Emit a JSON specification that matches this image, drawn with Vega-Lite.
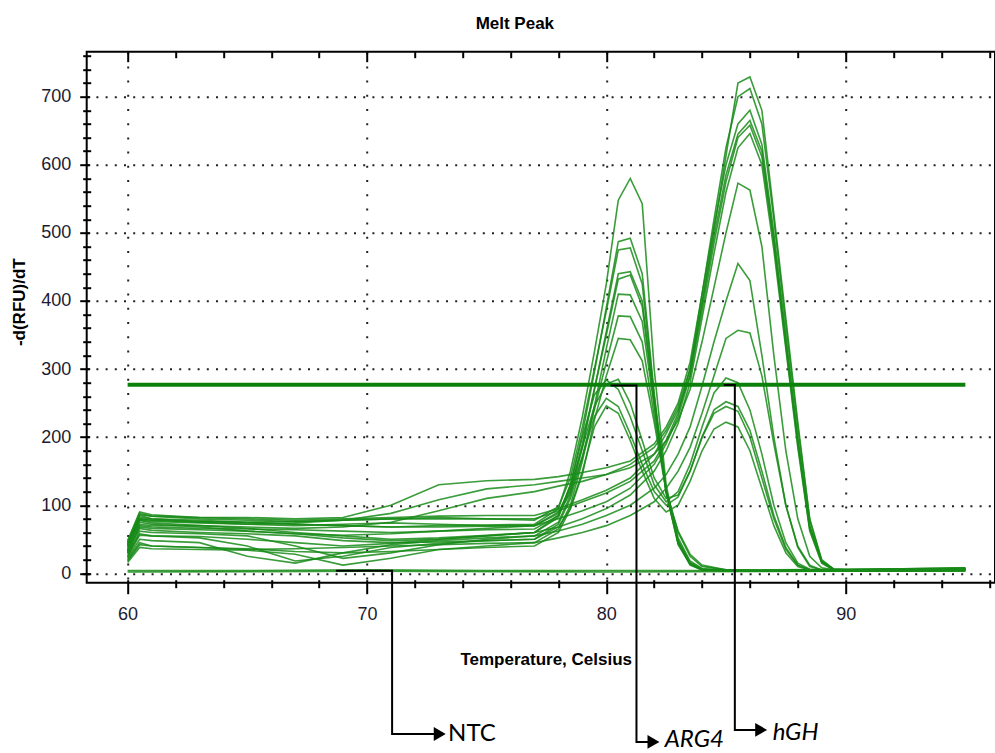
{
"$schema":"https://vega.github.io/schema/vega-lite/v6.json",
"width":908.3,"height":531,
"autosize":{"type":"none"},
"padding":{"left":86.7,"top":51.7,"right":0,"bottom":170.3},
"background":"white",
"title":{"text":"Melt Peak","font":"Liberation Sans Narrow, Arial Narrow, Liberation Sans, sans-serif","fontSize":17,"fontWeight":"bold","color":"black","dx":-26,"offset":18},
"config":{"view":{"stroke":"black","strokeWidth":2},"axis":{"tickColor":"black","tickWidth":2,"domain":false,"labelFont":"Liberation Sans Narrow, Arial Narrow, Liberation Sans, sans-serif","labelColor":"#1c1c30","titleFont":"Liberation Sans Narrow, Arial Narrow, Liberation Sans, sans-serif","titleColor":"black","gridColor":"#222"}},
"resolve":{"axis":{"x":"independent","y":"independent"}},
"datasets":{
"curves":[
{"s":"a1","t":60,"v":40},{"s":"a1","t":60.5,"v":85},{"s":"a1","t":61,"v":80},{"s":"a1","t":63,"v":76},{"s":"a1","t":65,"v":74},{"s":"a1","t":67,"v":72},{"s":"a1","t":69,"v":70},{"s":"a1","t":71,"v":68},{"s":"a1","t":73,"v":70},{"s":"a1","t":75,"v":71},{"s":"a1","t":77,"v":72},{"s":"a1","t":78,"v":95},{"s":"a1","t":78.5,"v":150},{"s":"a1","t":79,"v":230},{"s":"a1","t":79.5,"v":325},{"s":"a1","t":80,"v":425},{"s":"a1","t":80.5,"v":548},{"s":"a1","t":81,"v":580},{"s":"a1","t":81.5,"v":543},{"s":"a1","t":82,"v":300},{"s":"a1","t":82.5,"v":130},{"s":"a1","t":83,"v":45},{"s":"a1","t":83.5,"v":12},{"s":"a1","t":84,"v":5},{"s":"a1","t":85,"v":4},{"s":"a1","t":87,"v":4},{"s":"a1","t":90,"v":5},{"s":"a1","t":95,"v":6},
{"s":"a2","t":60,"v":35},{"s":"a2","t":60.5,"v":78},{"s":"a2","t":61,"v":74},{"s":"a2","t":63,"v":70},{"s":"a2","t":65,"v":66},{"s":"a2","t":67,"v":60},{"s":"a2","t":69,"v":55},{"s":"a2","t":71,"v":50},{"s":"a2","t":73,"v":52},{"s":"a2","t":75,"v":56},{"s":"a2","t":77,"v":60},{"s":"a2","t":78,"v":82},{"s":"a2","t":78.5,"v":130},{"s":"a2","t":79,"v":205},{"s":"a2","t":79.5,"v":295},{"s":"a2","t":80,"v":390},{"s":"a2","t":80.5,"v":487},{"s":"a2","t":81,"v":492},{"s":"a2","t":81.5,"v":440},{"s":"a2","t":82,"v":265},{"s":"a2","t":82.5,"v":120},{"s":"a2","t":83,"v":42},{"s":"a2","t":83.5,"v":13},{"s":"a2","t":84,"v":5},{"s":"a2","t":85,"v":4},{"s":"a2","t":87,"v":3},{"s":"a2","t":90,"v":4},{"s":"a2","t":95,"v":5},
{"s":"a3","t":60,"v":45},{"s":"a3","t":60.5,"v":88},{"s":"a3","t":61,"v":84},{"s":"a3","t":63,"v":80},{"s":"a3","t":65,"v":78},{"s":"a3","t":67,"v":76},{"s":"a3","t":69,"v":78},{"s":"a3","t":71,"v":80},{"s":"a3","t":73,"v":82},{"s":"a3","t":75,"v":80},{"s":"a3","t":77,"v":78},{"s":"a3","t":78,"v":98},{"s":"a3","t":78.5,"v":140},{"s":"a3","t":79,"v":215},{"s":"a3","t":79.5,"v":300},{"s":"a3","t":80,"v":385},{"s":"a3","t":80.5,"v":475},{"s":"a3","t":81,"v":478},{"s":"a3","t":81.5,"v":425},{"s":"a3","t":82,"v":260},{"s":"a3","t":82.5,"v":118},{"s":"a3","t":83,"v":44},{"s":"a3","t":83.5,"v":14},{"s":"a3","t":84,"v":5},{"s":"a3","t":85,"v":4},{"s":"a3","t":87,"v":5},{"s":"a3","t":90,"v":6},{"s":"a3","t":95,"v":7},
{"s":"a4","t":60,"v":25},{"s":"a4","t":60.5,"v":62},{"s":"a4","t":61,"v":60},{"s":"a4","t":63,"v":58},{"s":"a4","t":65,"v":55},{"s":"a4","t":67,"v":40},{"s":"a4","t":69,"v":22},{"s":"a4","t":71,"v":30},{"s":"a4","t":73,"v":42},{"s":"a4","t":75,"v":50},{"s":"a4","t":77,"v":55},{"s":"a4","t":78,"v":75},{"s":"a4","t":78.5,"v":115},{"s":"a4","t":79,"v":185},{"s":"a4","t":79.5,"v":270},{"s":"a4","t":80,"v":355},{"s":"a4","t":80.5,"v":440},{"s":"a4","t":81,"v":443},{"s":"a4","t":81.5,"v":400},{"s":"a4","t":82,"v":255},{"s":"a4","t":82.5,"v":122},{"s":"a4","t":83,"v":48},{"s":"a4","t":83.5,"v":16},{"s":"a4","t":84,"v":6},{"s":"a4","t":85,"v":4},{"s":"a4","t":87,"v":4},{"s":"a4","t":90,"v":3},{"s":"a4","t":95,"v":4},
{"s":"a5","t":60,"v":30},{"s":"a5","t":60.5,"v":70},{"s":"a5","t":61,"v":68},{"s":"a5","t":63,"v":66},{"s":"a5","t":65,"v":65},{"s":"a5","t":67,"v":64},{"s":"a5","t":69,"v":62},{"s":"a5","t":71,"v":60},{"s":"a5","t":73,"v":62},{"s":"a5","t":75,"v":64},{"s":"a5","t":77,"v":65},{"s":"a5","t":78,"v":85},{"s":"a5","t":78.5,"v":122},{"s":"a5","t":79,"v":190},{"s":"a5","t":79.5,"v":270},{"s":"a5","t":80,"v":350},{"s":"a5","t":80.5,"v":432},{"s":"a5","t":81,"v":438},{"s":"a5","t":81.5,"v":392},{"s":"a5","t":82,"v":250},{"s":"a5","t":82.5,"v":118},{"s":"a5","t":83,"v":47},{"s":"a5","t":83.5,"v":15},{"s":"a5","t":84,"v":6},{"s":"a5","t":85,"v":5},{"s":"a5","t":87,"v":4},{"s":"a5","t":90,"v":5},{"s":"a5","t":95,"v":8},
{"s":"a6","t":60,"v":20},{"s":"a6","t":60.5,"v":45},{"s":"a6","t":61,"v":40},{"s":"a6","t":63,"v":38},{"s":"a6","t":65,"v":35},{"s":"a6","t":67,"v":36},{"s":"a6","t":69,"v":38},{"s":"a6","t":71,"v":40},{"s":"a6","t":73,"v":42},{"s":"a6","t":75,"v":44},{"s":"a6","t":77,"v":45},{"s":"a6","t":78,"v":65},{"s":"a6","t":78.5,"v":100},{"s":"a6","t":79,"v":165},{"s":"a6","t":79.5,"v":245},{"s":"a6","t":80,"v":330},{"s":"a6","t":80.5,"v":410},{"s":"a6","t":81,"v":409},{"s":"a6","t":81.5,"v":370},{"s":"a6","t":82,"v":245},{"s":"a6","t":82.5,"v":124},{"s":"a6","t":83,"v":52},{"s":"a6","t":83.5,"v":18},{"s":"a6","t":84,"v":7},{"s":"a6","t":85,"v":4},{"s":"a6","t":87,"v":3},{"s":"a6","t":90,"v":4},{"s":"a6","t":95,"v":5},
{"s":"a7","t":60,"v":42},{"s":"a7","t":60.5,"v":80},{"s":"a7","t":61,"v":78},{"s":"a7","t":63,"v":75},{"s":"a7","t":65,"v":72},{"s":"a7","t":67,"v":70},{"s":"a7","t":69,"v":72},{"s":"a7","t":71,"v":74},{"s":"a7","t":73,"v":72},{"s":"a7","t":75,"v":70},{"s":"a7","t":77,"v":70},{"s":"a7","t":78,"v":88},{"s":"a7","t":78.5,"v":118},{"s":"a7","t":79,"v":172},{"s":"a7","t":79.5,"v":240},{"s":"a7","t":80,"v":310},{"s":"a7","t":80.5,"v":378},{"s":"a7","t":81,"v":377},{"s":"a7","t":81.5,"v":340},{"s":"a7","t":82,"v":232},{"s":"a7","t":82.5,"v":122},{"s":"a7","t":83,"v":60},{"s":"a7","t":83.5,"v":25},{"s":"a7","t":84,"v":10},{"s":"a7","t":85,"v":5},{"s":"a7","t":87,"v":4},{"s":"a7","t":90,"v":5},{"s":"a7","t":95,"v":6},
{"s":"a8","t":60,"v":28},{"s":"a8","t":60.5,"v":58},{"s":"a8","t":61,"v":55},{"s":"a8","t":63,"v":52},{"s":"a8","t":65,"v":40},{"s":"a8","t":67,"v":18},{"s":"a8","t":69,"v":25},{"s":"a8","t":71,"v":38},{"s":"a8","t":73,"v":44},{"s":"a8","t":75,"v":48},{"s":"a8","t":77,"v":50},{"s":"a8","t":78,"v":68},{"s":"a8","t":78.5,"v":95},{"s":"a8","t":79,"v":145},{"s":"a8","t":79.5,"v":225},{"s":"a8","t":80,"v":290},{"s":"a8","t":80.5,"v":345},{"s":"a8","t":81,"v":343},{"s":"a8","t":81.5,"v":312},{"s":"a8","t":82,"v":222},{"s":"a8","t":82.5,"v":120},{"s":"a8","t":83,"v":62},{"s":"a8","t":83.5,"v":28},{"s":"a8","t":84,"v":12},{"s":"a8","t":85,"v":5},{"s":"a8","t":87,"v":4},{"s":"a8","t":90,"v":4},{"s":"a8","t":95,"v":7},
{"s":"d1","t":60,"v":38},{"s":"d1","t":60.5,"v":75},{"s":"d1","t":61,"v":72},{"s":"d1","t":63,"v":68},{"s":"d1","t":65,"v":62},{"s":"d1","t":67,"v":58},{"s":"d1","t":69,"v":52},{"s":"d1","t":71,"v":48},{"s":"d1","t":73,"v":50},{"s":"d1","t":75,"v":55},{"s":"d1","t":77,"v":60},{"s":"d1","t":78,"v":85},{"s":"d1","t":78.5,"v":130},{"s":"d1","t":79,"v":200},{"s":"d1","t":79.5,"v":262},{"s":"d1","t":80,"v":284},{"s":"d1","t":80.5,"v":270},{"s":"d1","t":81,"v":230},{"s":"d1","t":81.5,"v":180},{"s":"d1","t":82,"v":130},{"s":"d1","t":82.5,"v":105},{"s":"d1","t":83,"v":120},{"s":"d1","t":83.5,"v":160},{"s":"d1","t":84,"v":215},{"s":"d1","t":84.5,"v":265},{"s":"d1","t":85,"v":287},{"s":"d1","t":85.5,"v":280},{"s":"d1","t":86,"v":240},{"s":"d1","t":86.5,"v":175},{"s":"d1","t":87,"v":100},{"s":"d1","t":87.5,"v":45},{"s":"d1","t":88,"v":15},{"s":"d1","t":88.5,"v":6},{"s":"d1","t":89,"v":4},{"s":"d1","t":91,"v":4},{"s":"d1","t":95,"v":6},
{"s":"d2","t":60,"v":44},{"s":"d2","t":60.5,"v":82},{"s":"d2","t":61,"v":80},{"s":"d2","t":63,"v":78},{"s":"d2","t":65,"v":75},{"s":"d2","t":67,"v":72},{"s":"d2","t":69,"v":70},{"s":"d2","t":71,"v":68},{"s":"d2","t":73,"v":68},{"s":"d2","t":75,"v":69},{"s":"d2","t":77,"v":70},{"s":"d2","t":78,"v":90},{"s":"d2","t":78.5,"v":125},{"s":"d2","t":79,"v":185},{"s":"d2","t":79.5,"v":245},{"s":"d2","t":80,"v":278},{"s":"d2","t":80.5,"v":285},{"s":"d2","t":81,"v":250},{"s":"d2","t":81.5,"v":195},{"s":"d2","t":82,"v":140},{"s":"d2","t":82.5,"v":110},{"s":"d2","t":83,"v":115},{"s":"d2","t":83.5,"v":150},{"s":"d2","t":84,"v":200},{"s":"d2","t":84.5,"v":240},{"s":"d2","t":85,"v":252},{"s":"d2","t":85.5,"v":245},{"s":"d2","t":86,"v":210},{"s":"d2","t":86.5,"v":150},{"s":"d2","t":87,"v":85},{"s":"d2","t":87.5,"v":38},{"s":"d2","t":88,"v":12},{"s":"d2","t":88.5,"v":5},{"s":"d2","t":89,"v":4},{"s":"d2","t":91,"v":5},{"s":"d2","t":95,"v":7},
{"s":"d3","t":60,"v":32},{"s":"d3","t":60.5,"v":66},{"s":"d3","t":61,"v":63},{"s":"d3","t":63,"v":60},{"s":"d3","t":65,"v":58},{"s":"d3","t":67,"v":55},{"s":"d3","t":69,"v":48},{"s":"d3","t":71,"v":45},{"s":"d3","t":73,"v":46},{"s":"d3","t":75,"v":48},{"s":"d3","t":77,"v":50},{"s":"d3","t":78,"v":72},{"s":"d3","t":78.5,"v":110},{"s":"d3","t":79,"v":170},{"s":"d3","t":79.5,"v":230},{"s":"d3","t":80,"v":257},{"s":"d3","t":80.5,"v":245},{"s":"d3","t":81,"v":205},{"s":"d3","t":81.5,"v":160},{"s":"d3","t":82,"v":120},{"s":"d3","t":82.5,"v":100},{"s":"d3","t":83,"v":112},{"s":"d3","t":83.5,"v":150},{"s":"d3","t":84,"v":200},{"s":"d3","t":84.5,"v":235},{"s":"d3","t":85,"v":245},{"s":"d3","t":85.5,"v":238},{"s":"d3","t":86,"v":200},{"s":"d3","t":86.5,"v":140},{"s":"d3","t":87,"v":80},{"s":"d3","t":87.5,"v":35},{"s":"d3","t":88,"v":12},{"s":"d3","t":88.5,"v":5},{"s":"d3","t":89,"v":4},{"s":"d3","t":91,"v":3},{"s":"d3","t":95,"v":5},
{"s":"d4","t":60,"v":18},{"s":"d4","t":60.5,"v":42},{"s":"d4","t":61,"v":40},{"s":"d4","t":63,"v":38},{"s":"d4","t":65,"v":36},{"s":"d4","t":67,"v":32},{"s":"d4","t":69,"v":30},{"s":"d4","t":71,"v":32},{"s":"d4","t":73,"v":35},{"s":"d4","t":75,"v":38},{"s":"d4","t":77,"v":40},{"s":"d4","t":78,"v":60},{"s":"d4","t":78.5,"v":95},{"s":"d4","t":79,"v":150},{"s":"d4","t":79.5,"v":215},{"s":"d4","t":80,"v":246},{"s":"d4","t":80.5,"v":235},{"s":"d4","t":81,"v":195},{"s":"d4","t":81.5,"v":150},{"s":"d4","t":82,"v":110},{"s":"d4","t":82.5,"v":90},{"s":"d4","t":83,"v":100},{"s":"d4","t":83.5,"v":135},{"s":"d4","t":84,"v":180},{"s":"d4","t":84.5,"v":212},{"s":"d4","t":85,"v":222},{"s":"d4","t":85.5,"v":215},{"s":"d4","t":86,"v":180},{"s":"d4","t":86.5,"v":125},{"s":"d4","t":87,"v":70},{"s":"d4","t":87.5,"v":30},{"s":"d4","t":88,"v":10},{"s":"d4","t":88.5,"v":5},{"s":"d4","t":89,"v":4},{"s":"d4","t":91,"v":4},{"s":"d4","t":95,"v":6},
{"s":"h1","t":60,"v":48},{"s":"h1","t":60.5,"v":90},{"s":"h1","t":61,"v":86},{"s":"h1","t":63,"v":82},{"s":"h1","t":65,"v":80},{"s":"h1","t":67,"v":78},{"s":"h1","t":69,"v":80},{"s":"h1","t":71,"v":82},{"s":"h1","t":73,"v":84},{"s":"h1","t":75,"v":85},{"s":"h1","t":77,"v":85},{"s":"h1","t":78,"v":95},{"s":"h1","t":79,"v":108},{"s":"h1","t":80,"v":122},{"s":"h1","t":81,"v":140},{"s":"h1","t":82,"v":175},{"s":"h1","t":82.5,"v":205},{"s":"h1","t":83,"v":240},{"s":"h1","t":83.5,"v":290},{"s":"h1","t":84,"v":397},{"s":"h1","t":84.5,"v":504},{"s":"h1","t":85,"v":613},{"s":"h1","t":85.5,"v":720},{"s":"h1","t":86,"v":729},{"s":"h1","t":86.5,"v":680},{"s":"h1","t":87,"v":528},{"s":"h1","t":87.5,"v":375},{"s":"h1","t":88,"v":222},{"s":"h1","t":88.5,"v":80},{"s":"h1","t":89,"v":20},{"s":"h1","t":89.5,"v":6},{"s":"h1","t":91,"v":4},{"s":"h1","t":95,"v":5},
{"s":"h2","t":60,"v":40},{"s":"h2","t":60.5,"v":80},{"s":"h2","t":61,"v":78},{"s":"h2","t":63,"v":76},{"s":"h2","t":65,"v":75},{"s":"h2","t":67,"v":76},{"s":"h2","t":69,"v":78},{"s":"h2","t":71,"v":80},{"s":"h2","t":73,"v":80},{"s":"h2","t":75,"v":80},{"s":"h2","t":77,"v":80},{"s":"h2","t":78,"v":92},{"s":"h2","t":79,"v":105},{"s":"h2","t":80,"v":118},{"s":"h2","t":81,"v":135},{"s":"h2","t":82,"v":165},{"s":"h2","t":82.5,"v":195},{"s":"h2","t":83,"v":235},{"s":"h2","t":83.5,"v":300},{"s":"h2","t":84,"v":410},{"s":"h2","t":84.5,"v":520},{"s":"h2","t":85,"v":625},{"s":"h2","t":85.5,"v":700},{"s":"h2","t":86,"v":712},{"s":"h2","t":86.5,"v":660},{"s":"h2","t":87,"v":520},{"s":"h2","t":87.5,"v":365},{"s":"h2","t":88,"v":215},{"s":"h2","t":88.5,"v":78},{"s":"h2","t":89,"v":18},{"s":"h2","t":89.5,"v":6},{"s":"h2","t":91,"v":5},{"s":"h2","t":95,"v":7},
{"s":"h3","t":60,"v":46},{"s":"h3","t":60.5,"v":86},{"s":"h3","t":61,"v":84},{"s":"h3","t":63,"v":82},{"s":"h3","t":65,"v":82},{"s":"h3","t":67,"v":80},{"s":"h3","t":69,"v":82},{"s":"h3","t":71,"v":100},{"s":"h3","t":73,"v":130},{"s":"h3","t":75,"v":136},{"s":"h3","t":77,"v":138},{"s":"h3","t":78,"v":142},{"s":"h3","t":79,"v":148},{"s":"h3","t":80,"v":155},{"s":"h3","t":81,"v":165},{"s":"h3","t":82,"v":190},{"s":"h3","t":82.5,"v":215},{"s":"h3","t":83,"v":250},{"s":"h3","t":83.5,"v":310},{"s":"h3","t":84,"v":410},{"s":"h3","t":84.5,"v":510},{"s":"h3","t":85,"v":600},{"s":"h3","t":85.5,"v":660},{"s":"h3","t":86,"v":680},{"s":"h3","t":86.5,"v":630},{"s":"h3","t":87,"v":500},{"s":"h3","t":87.5,"v":350},{"s":"h3","t":88,"v":200},{"s":"h3","t":88.5,"v":70},{"s":"h3","t":89,"v":18},{"s":"h3","t":89.5,"v":6},{"s":"h3","t":91,"v":3},{"s":"h3","t":95,"v":4},
{"s":"h4","t":60,"v":36},{"s":"h4","t":60.5,"v":72},{"s":"h4","t":61,"v":70},{"s":"h4","t":63,"v":70},{"s":"h4","t":65,"v":68},{"s":"h4","t":67,"v":66},{"s":"h4","t":69,"v":68},{"s":"h4","t":71,"v":75},{"s":"h4","t":73,"v":92},{"s":"h4","t":75,"v":110},{"s":"h4","t":77,"v":120},{"s":"h4","t":78,"v":128},{"s":"h4","t":79,"v":135},{"s":"h4","t":80,"v":145},{"s":"h4","t":81,"v":160},{"s":"h4","t":82,"v":185},{"s":"h4","t":82.5,"v":210},{"s":"h4","t":83,"v":245},{"s":"h4","t":83.5,"v":300},{"s":"h4","t":84,"v":395},{"s":"h4","t":84.5,"v":495},{"s":"h4","t":85,"v":585},{"s":"h4","t":85.5,"v":645},{"s":"h4","t":86,"v":665},{"s":"h4","t":86.5,"v":620},{"s":"h4","t":87,"v":490},{"s":"h4","t":87.5,"v":340},{"s":"h4","t":88,"v":195},{"s":"h4","t":88.5,"v":68},{"s":"h4","t":89,"v":17},{"s":"h4","t":89.5,"v":6},{"s":"h4","t":91,"v":4},{"s":"h4","t":95,"v":6},
{"s":"h5","t":60,"v":30},{"s":"h5","t":60.5,"v":68},{"s":"h5","t":61,"v":66},{"s":"h5","t":63,"v":64},{"s":"h5","t":65,"v":62},{"s":"h5","t":67,"v":58},{"s":"h5","t":69,"v":56},{"s":"h5","t":71,"v":58},{"s":"h5","t":73,"v":62},{"s":"h5","t":75,"v":66},{"s":"h5","t":77,"v":70},{"s":"h5","t":78,"v":80},{"s":"h5","t":79,"v":92},{"s":"h5","t":80,"v":105},{"s":"h5","t":81,"v":125},{"s":"h5","t":82,"v":160},{"s":"h5","t":82.5,"v":190},{"s":"h5","t":83,"v":230},{"s":"h5","t":83.5,"v":290},{"s":"h5","t":84,"v":385},{"s":"h5","t":84.5,"v":485},{"s":"h5","t":85,"v":575},{"s":"h5","t":85.5,"v":640},{"s":"h5","t":86,"v":658},{"s":"h5","t":86.5,"v":612},{"s":"h5","t":87,"v":485},{"s":"h5","t":87.5,"v":335},{"s":"h5","t":88,"v":190},{"s":"h5","t":88.5,"v":65},{"s":"h5","t":89,"v":16},{"s":"h5","t":89.5,"v":5},{"s":"h5","t":91,"v":6},{"s":"h5","t":95,"v":8},
{"s":"h6","t":60,"v":24},{"s":"h6","t":60.5,"v":56},{"s":"h6","t":61,"v":55},{"s":"h6","t":63,"v":54},{"s":"h6","t":65,"v":50},{"s":"h6","t":67,"v":45},{"s":"h6","t":69,"v":40},{"s":"h6","t":71,"v":44},{"s":"h6","t":73,"v":50},{"s":"h6","t":75,"v":55},{"s":"h6","t":77,"v":60},{"s":"h6","t":78,"v":68},{"s":"h6","t":79,"v":80},{"s":"h6","t":80,"v":95},{"s":"h6","t":81,"v":115},{"s":"h6","t":82,"v":150},{"s":"h6","t":82.5,"v":180},{"s":"h6","t":83,"v":220},{"s":"h6","t":83.5,"v":280},{"s":"h6","t":84,"v":375},{"s":"h6","t":84.5,"v":470},{"s":"h6","t":85,"v":560},{"s":"h6","t":85.5,"v":625},{"s":"h6","t":86,"v":646},{"s":"h6","t":86.5,"v":600},{"s":"h6","t":87,"v":475},{"s":"h6","t":87.5,"v":330},{"s":"h6","t":88,"v":185},{"s":"h6","t":88.5,"v":62},{"s":"h6","t":89,"v":15},{"s":"h6","t":89.5,"v":5},{"s":"h6","t":91,"v":4},{"s":"h6","t":95,"v":5},
{"s":"h7","t":60,"v":42},{"s":"h7","t":60.5,"v":78},{"s":"h7","t":61,"v":76},{"s":"h7","t":63,"v":74},{"s":"h7","t":65,"v":72},{"s":"h7","t":67,"v":74},{"s":"h7","t":69,"v":78},{"s":"h7","t":71,"v":88},{"s":"h7","t":73,"v":108},{"s":"h7","t":75,"v":124},{"s":"h7","t":77,"v":130},{"s":"h7","t":78,"v":135},{"s":"h7","t":79,"v":140},{"s":"h7","t":80,"v":145},{"s":"h7","t":81,"v":155},{"s":"h7","t":82,"v":175},{"s":"h7","t":82.5,"v":195},{"s":"h7","t":83,"v":225},{"s":"h7","t":83.5,"v":270},{"s":"h7","t":84,"v":340},{"s":"h7","t":84.5,"v":420},{"s":"h7","t":85,"v":500},{"s":"h7","t":85.5,"v":573},{"s":"h7","t":86,"v":563},{"s":"h7","t":86.5,"v":480},{"s":"h7","t":87,"v":320},{"s":"h7","t":87.5,"v":180},{"s":"h7","t":88,"v":80},{"s":"h7","t":88.5,"v":25},{"s":"h7","t":89,"v":8},{"s":"h7","t":89.5,"v":5},{"s":"h7","t":91,"v":4},{"s":"h7","t":95,"v":6},
{"s":"h8","t":60,"v":22},{"s":"h8","t":60.5,"v":50},{"s":"h8","t":61,"v":48},{"s":"h8","t":63,"v":45},{"s":"h8","t":65,"v":25},{"s":"h8","t":67,"v":15},{"s":"h8","t":69,"v":30},{"s":"h8","t":71,"v":42},{"s":"h8","t":73,"v":48},{"s":"h8","t":75,"v":52},{"s":"h8","t":77,"v":55},{"s":"h8","t":78,"v":62},{"s":"h8","t":79,"v":72},{"s":"h8","t":80,"v":85},{"s":"h8","t":81,"v":100},{"s":"h8","t":82,"v":125},{"s":"h8","t":82.5,"v":145},{"s":"h8","t":83,"v":175},{"s":"h8","t":83.5,"v":215},{"s":"h8","t":84,"v":275},{"s":"h8","t":84.5,"v":340},{"s":"h8","t":85,"v":400},{"s":"h8","t":85.5,"v":455},{"s":"h8","t":86,"v":430},{"s":"h8","t":86.5,"v":320},{"s":"h8","t":87,"v":200},{"s":"h8","t":87.5,"v":100},{"s":"h8","t":88,"v":40},{"s":"h8","t":88.5,"v":12},{"s":"h8","t":89,"v":5},{"s":"h8","t":89.5,"v":4},{"s":"h8","t":91,"v":3},{"s":"h8","t":95,"v":5},
{"s":"h9","t":60,"v":16},{"s":"h9","t":60.5,"v":38},{"s":"h9","t":61,"v":36},{"s":"h9","t":63,"v":35},{"s":"h9","t":65,"v":34},{"s":"h9","t":67,"v":28},{"s":"h9","t":69,"v":12},{"s":"h9","t":71,"v":22},{"s":"h9","t":73,"v":35},{"s":"h9","t":75,"v":40},{"s":"h9","t":77,"v":45},{"s":"h9","t":78,"v":52},{"s":"h9","t":79,"v":60},{"s":"h9","t":80,"v":70},{"s":"h9","t":81,"v":85},{"s":"h9","t":82,"v":105},{"s":"h9","t":82.5,"v":125},{"s":"h9","t":83,"v":150},{"s":"h9","t":83.5,"v":185},{"s":"h9","t":84,"v":235},{"s":"h9","t":84.5,"v":290},{"s":"h9","t":85,"v":345},{"s":"h9","t":85.5,"v":357},{"s":"h9","t":86,"v":353},{"s":"h9","t":86.5,"v":290},{"s":"h9","t":87,"v":190},{"s":"h9","t":87.5,"v":100},{"s":"h9","t":88,"v":38},{"s":"h9","t":88.5,"v":10},{"s":"h9","t":89,"v":5},{"s":"h9","t":89.5,"v":4},{"s":"h9","t":91,"v":4},{"s":"h9","t":95,"v":6},
{"s":"n1","t":60,"v":4},{"s":"n1","t":65,"v":4},{"s":"n1","t":70,"v":5},{"s":"n1","t":75,"v":4},{"s":"n1","t":80,"v":4},{"s":"n1","t":85,"v":4},{"s":"n1","t":90,"v":4},{"s":"n1","t":95,"v":5},
{"s":"n2","t":60,"v":2},{"s":"n2","t":70,"v":3},{"s":"n2","t":80,"v":2},{"s":"n2","t":90,"v":3},{"s":"n2","t":95,"v":3}
],
"thr":[{"a":60,"b":95,"v":277}],
"ann":[
{"g":"NTC","o":1,"t":68.7,"v":3.8},{"g":"NTC","o":2,"t":71.05,"v":3.8},{"g":"NTC","o":3,"t":71.05,"v":-236},{"g":"NTC","o":4,"t":73.0,"v":-236},
{"g":"ARG4","o":1,"t":80.18,"v":276},{"g":"ARG4","o":2,"t":81.26,"v":276},{"g":"ARG4","o":3,"t":81.26,"v":-247.6},{"g":"ARG4","o":4,"t":81.95,"v":-247.6},
{"g":"hGH","o":1,"t":84.91,"v":276.5},{"g":"hGH","o":2,"t":85.37,"v":276.5},{"g":"hGH","o":3,"t":85.37,"v":-230},{"g":"hGH","o":4,"t":86.45,"v":-230}
],
"heads":[{"t":73.04,"v":-236},{"t":81.97,"v":-247.6},{"t":86.47,"v":-230}],
"lab1":[{"t":73.39,"v":-236,"label":"NTC"}],
"lab2":[{"t":82.44,"v":-244.8,"label":"ARG4"},{"t":86.95,"v":-234.5,"label":"hGH"}]
},
"layer":[
{"data":{"name":"curves"},
 "mark":{"type":"line","color":"#178b17","strokeWidth":1.6,"opacity":0.85},
 "encoding":{
  "x":{"field":"t","type":"quantitative","scale":{"domain":[58.29,96.24],"nice":false,"zero":false},
   "axis":{"orient":"bottom","values":[60,70,80,90],"offset":-3,"tickSize":14,"labelFontSize":18,"labelPadding":12,"grid":true,"gridDash":[2,12.2],"gridWidth":2,"title":"Temperature, Celsius","titleFontSize":17,"titleFontWeight":"bold","titleX":459,"titleY":80,"titleBaseline":"middle"}},
  "y":{"field":"v","type":"quantitative","scale":{"domain":[-13.8,766.1],"nice":false,"zero":false},
   "axis":{"orient":"left","values":[0,100,200,300,400,500,600,700],"offset":-3,"tickSize":10,"labelFontSize":18,"labelPadding":9,"grid":true,"gridDash":[2,7.2],"gridWidth":2,"title":"-d(RFU)/dT","titleFontSize":17,"titleFontWeight":"bold","titleX":-70,"titleY":250,"titleBaseline":"middle"}},
  "detail":{"field":"s"}}},
{"data":{"name":"thr"},
 "mark":{"type":"rule","color":"#0b800b","strokeWidth":4},
 "encoding":{
  "x":{"field":"a","type":"quantitative","scale":{"domain":[58.29,96.24],"nice":false,"zero":false},
   "axis":{"orient":"bottom","values":[58,62,64,66,68,72,74,76,78,82,84,86,88,92,94,96],"offset":-3,"tickSize":8,"labels":false,"grid":false,"title":null}},
  "x2":{"field":"b"},
  "y":{"field":"v","type":"quantitative","scale":{"domain":[-13.8,766.1],"nice":false,"zero":false},
   "axis":{"orient":"left","values":[0,20,40,60,80,120,140,160,180,220,240,260,280,320,340,360,380,420,440,460,480,520,540,560,580,620,640,660,680,720,740,760],"offset":-4,"tickSize":8,"labels":false,"grid":false,"title":null}}}},
{"data":{"name":"ann"},
 "mark":{"type":"line","color":"black","strokeWidth":2},
 "encoding":{
  "x":{"field":"t","type":"quantitative","scale":{"domain":[58.29,96.24],"nice":false,"zero":false},
   "axis":{"orient":"top","values":[60,70,80,90],"offset":-10,"tickSize":10,"labels":false,"grid":false,"title":null}},
  "y":{"field":"v","type":"quantitative","scale":{"domain":[-13.8,766.1],"nice":false,"zero":false},"axis":null},
  "detail":{"field":"g"},
  "order":{"field":"o"}}},
{"data":{"name":"heads"},
 "mark":{"type":"point","shape":"triangle-right","filled":true,"color":"black","opacity":1,"size":190},
 "encoding":{
  "x":{"field":"t","type":"quantitative","scale":{"domain":[58.29,96.24],"nice":false,"zero":false},
   "axis":{"orient":"top","values":[58,62,64,66,68,72,74,76,78,82,84,86,88,92,94,96],"offset":-6,"tickSize":6,"labels":false,"grid":false,"title":null}},
  "y":{"field":"v","type":"quantitative","scale":{"domain":[-13.8,766.1],"nice":false,"zero":false},"axis":null}}},
{"data":{"name":"lab1"},
 "mark":{"type":"text","align":"left","baseline":"middle","font":"Lato","fontSize":24,"color":"black"},
 "encoding":{
  "x":{"field":"t","type":"quantitative","scale":{"domain":[58.29,96.24],"nice":false,"zero":false},"axis":null},
  "y":{"field":"v","type":"quantitative","scale":{"domain":[-13.8,766.1],"nice":false,"zero":false},"axis":null},
  "text":{"field":"label"}}},
{"data":{"name":"lab2"},
 "mark":{"type":"text","align":"left","baseline":"middle","font":"Lato","fontSize":24,"fontStyle":"italic","color":"black"},
 "encoding":{
  "x":{"field":"t","type":"quantitative","scale":{"domain":[58.29,96.24],"nice":false,"zero":false},"axis":null},
  "y":{"field":"v","type":"quantitative","scale":{"domain":[-13.8,766.1],"nice":false,"zero":false},"axis":null},
  "text":{"field":"label"}}}
]
}
